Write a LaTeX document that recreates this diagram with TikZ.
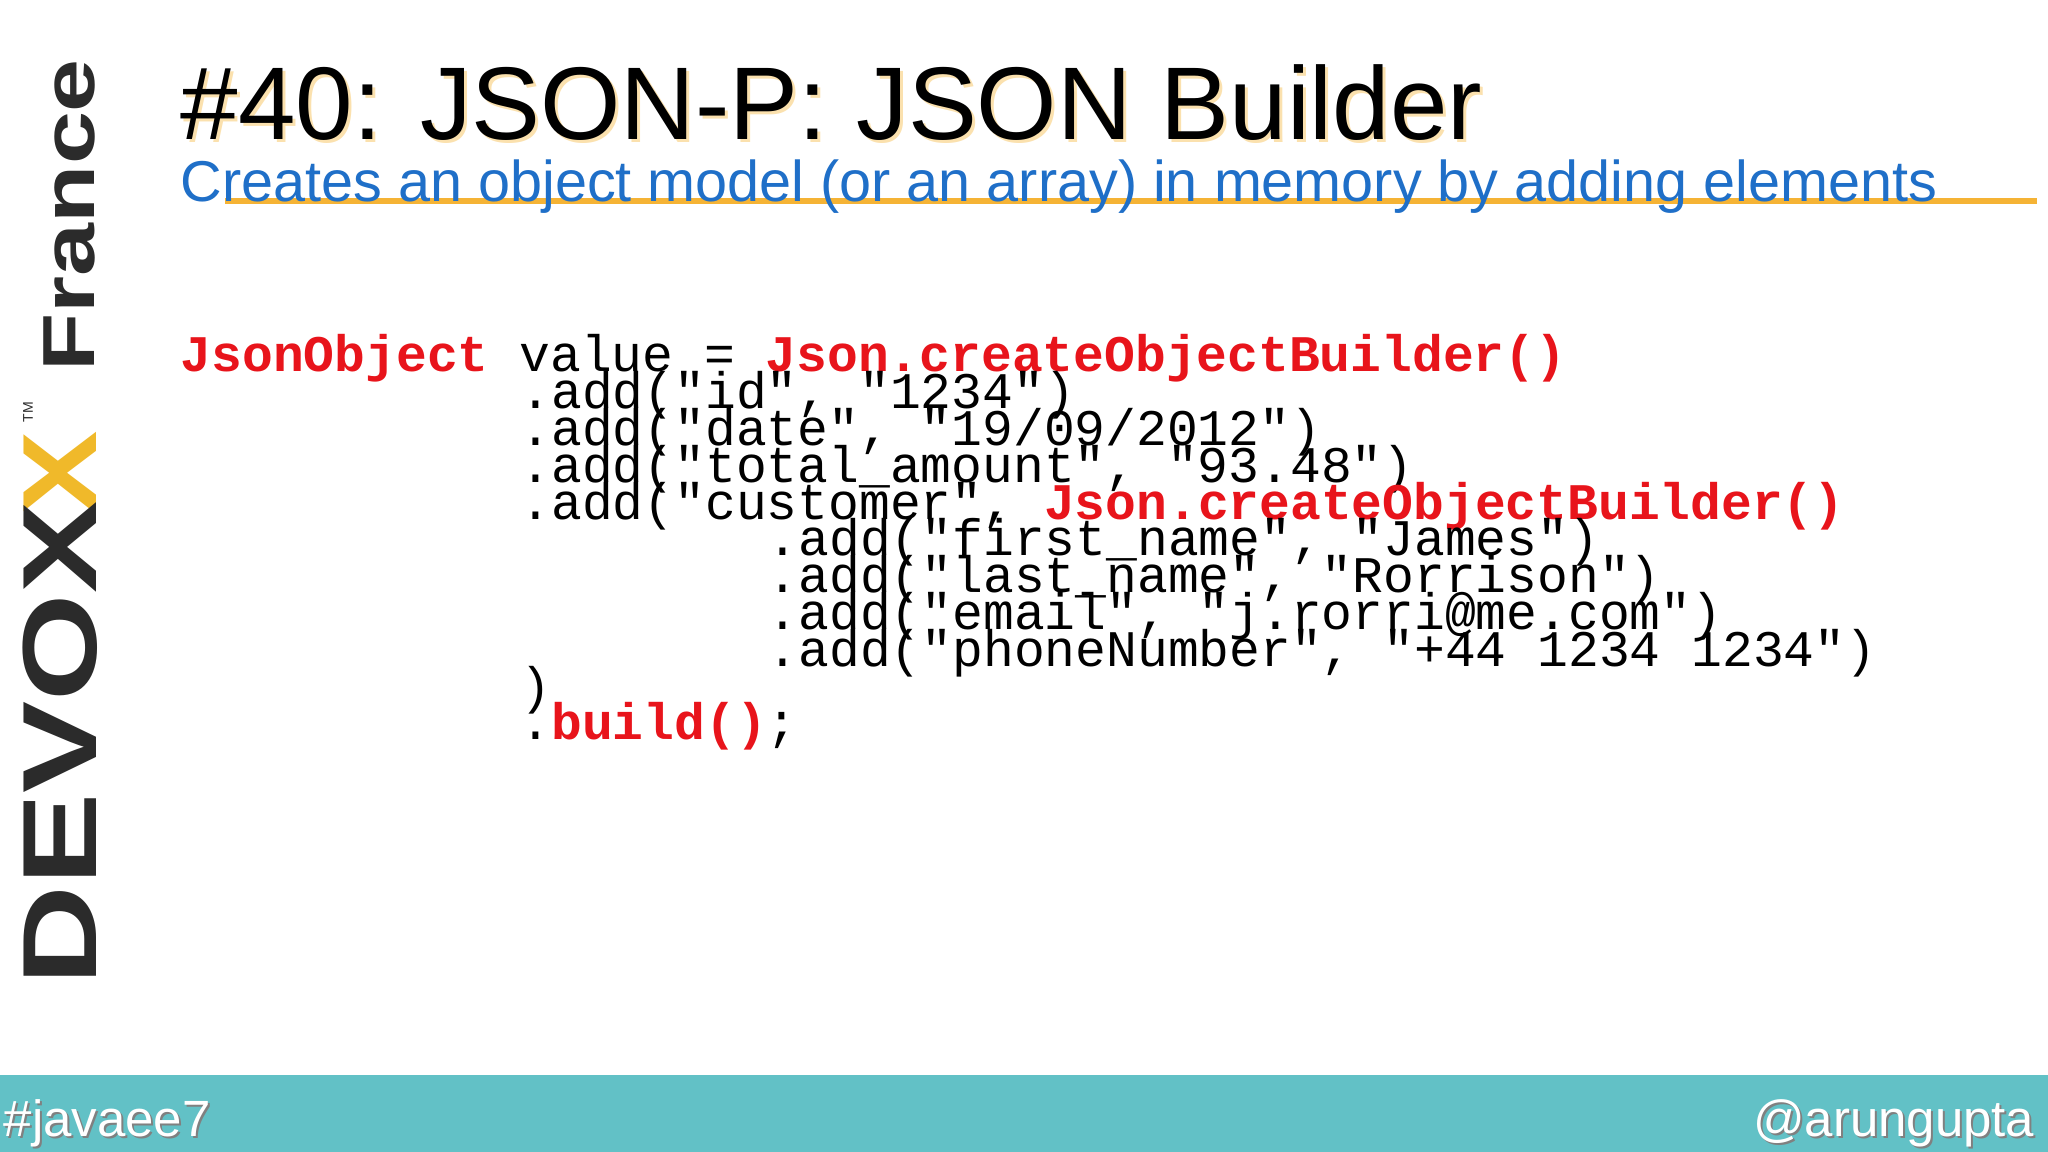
\documentclass[tikz,border=0pt]{standalone}
\usepackage{fontspec}
\setmainfont{Liberation Sans}
\newfontfamily\codefont{Liberation Mono}
\definecolor{teal}{HTML}{62C1C6}
\definecolor{subblue}{HTML}{1F6FC8}
\definecolor{orangeline}{HTML}{F5B335}
\definecolor{codered}{HTML}{E8141B}
\definecolor{logodark}{HTML}{2B2B2B}
\definecolor{logoyellow}{HTML}{F0B92A}
\begin{document}
\begin{tikzpicture}[x=1cm,y=-1cm,
  codeline/.style={anchor=base west,inner sep=0,font=\codefont\fontsize{14.6pt}{14.6pt}\selectfont}]
\useasboundingbox (0,0) rectangle (20.48,11.52);
\fill[white] (0,0) rectangle (20.48,11.52);
% bottom bar
\fill[teal] (0,10.75) rectangle (20.48,11.52);
\node[anchor=base west,inner sep=0,text=black!50,font=\fontsize{14.5pt}{14.5pt}\selectfont] at (0.05,11.38) {\#javaee7};
\node (tag) [anchor=base west,inner sep=0,text=white,font=\fontsize{14.5pt}{14.5pt}\selectfont] at (0.03,11.36) {\#javaee7};
\node[anchor=base east,inner sep=0,text=black!50,font=\fontsize{14.5pt}{14.5pt}\selectfont] at (20.37,11.38) {@arungupta};
\node (handle) [anchor=base east,inner sep=0,text=white,font=\fontsize{14.5pt}{14.5pt}\selectfont] at (20.35,11.36) {@arungupta};
% logo
\node (xy) [rotate=90,anchor=base west,inner sep=0,text=logoyellow,font=\bfseries\fontsize{30pt}{30pt}\selectfont] at (0.97,5.16) {\scalebox{1.2}[1]{X}};
\node (devox) [rotate=90,anchor=base west,inner sep=0,text=logodark,font=\bfseries\fontsize{30pt}{30pt}\selectfont] at (0.97,9.86) {\scalebox{1.31}[1]{DEVOX}};
\node (france) [rotate=90,anchor=base west,inner sep=0,text=logodark,font=\bfseries\fontsize{21pt}{21pt}\selectfont] at (0.94,3.72) {\scalebox{1.29}[1]{France}};
\node (tm) [rotate=90,inner sep=0,text=logodark,font=\fontsize{4pt}{4pt}\selectfont] at (0.28,4.12) {TM};
% title
\node[anchor=base west,inner sep=0,text=orangeline!40,font=\fontsize{29.4pt}{29.4pt}\selectfont] at (1.83,1.43) {\#40: JSON-P: JSON Builder};
\node (title) [anchor=base west,inner sep=0,text=black,font=\fontsize{29.4pt}{29.4pt}\selectfont] at (1.80,1.40) {\#40: JSON-P: JSON Builder};
\draw[orangeline,line width=6pt/4] (2.25,2.01) -- (20.37,2.01);
\node (sub) [anchor=base west,inner sep=0,text=subblue,font=\fontsize{16.38pt}{16.38pt}\selectfont] at (1.80,2.02) {Creates an object model (or an array) in memory by adding elements};
% code
\def\cx#1{1.80+#1*0.309}
\node (l1) [codeline] at ({\cx{0}},3.72) {\textcolor{codered}{\bfseries JsonObject} value = \textcolor{codered}{\bfseries Json.createObjectBuilder()}};
\node (l2) [codeline] at ({\cx{11}},4.088) {.add("id", "1234")};
\node (l3) [codeline] at ({\cx{11}},4.456) {.add("date", "19/09/2012")};
\node (l4) [codeline] at ({\cx{11}},4.824) {.add("total\_amount", "93.48")};
\node (l5) [codeline] at ({\cx{11}},5.192) {.add("customer", \textcolor{codered}{\bfseries Json.createObjectBuilder()}};
\node (l6) [codeline] at ({\cx{19}},5.56) {.add("first\_name", "James")};
\node (l7) [codeline] at ({\cx{19}},5.928) {.add("last\_name", "Rorrison")};
\node (l8) [codeline] at ({\cx{19}},6.296) {.add("email", "j.rorri@me.com")};
\node (l9) [codeline] at ({\cx{19}},6.664) {.add("phoneNumber", "+44 1234 1234")};
\node (l10) [codeline] at ({\cx{11}},7.032) {)};
\node (l11) [codeline] at ({\cx{11}},7.40) {.\textcolor{codered}{\bfseries build()};};
\end{tikzpicture}
\end{document}
